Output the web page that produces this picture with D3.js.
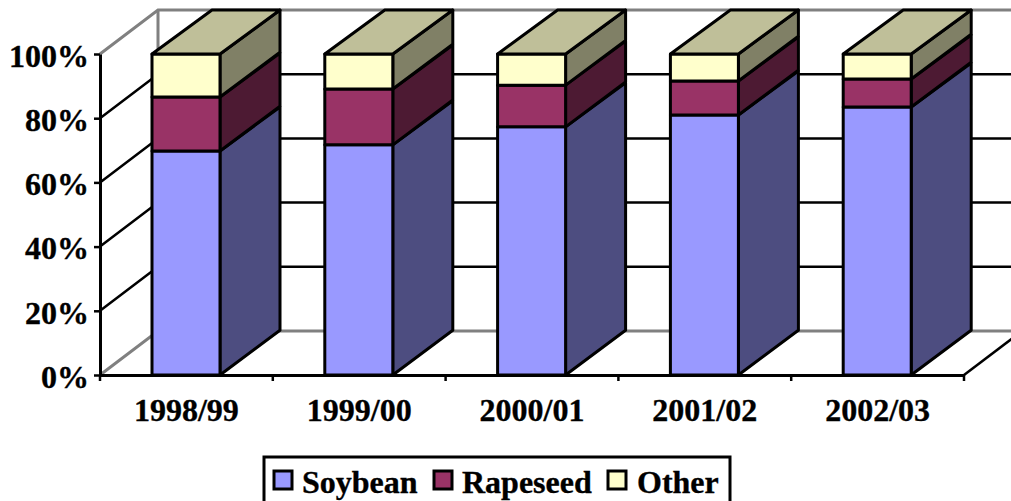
<!DOCTYPE html>
<html>
<head>
<meta charset="utf-8">
<script src="https://cdn.jsdelivr.net/npm/d3@7"></script>
<style>
html, body { margin: 0; padding: 0; background: #fff; overflow: hidden; }
text { font-family: "Liberation Serif", serif; font-weight: bold; fill: #000; stroke: #000; stroke-width: 0.35px; }
</style>
</head>
<body>
<div id="chart"></div>
<script>
// values in percent
var years = ['1998/99', '1999/00', '2000/01', '2001/02', '2002/03'];
var soybean = [69.8, 71.7, 77.3, 81.0, 83.5];
var rapeseed = [16.8, 17.4, 13.0, 10.6, 8.7];
var other = [13.4, 10.9, 9.7, 8.4, 7.8];
var seriesNames = ['Soybean', 'Rapeseed', 'Other'];
var yTicks = [0, 20, 40, 60, 80, 100];

var width = 1011;
var height = 501;

// depth of the 3d box
var depthX = 58;
var depthY = -44;
var barDepthX = 60;

var frontColor = ['#9999ff', '#993366', '#ffffcc'];
var sideColor = ['#4d4d80', '#4d1a33', '#808066'];
var topColor = '#bfbf99';

var svg = d3.select('#chart').append('svg')
    .attr('width', width)
    .attr('height', height)
    .style('display', 'block');

var xscale = d3.scaleBand()
    .domain(years)
    .range([100, 964])
    .paddingInner(0)
    .paddingOuter(0);

var yscale = d3.scaleLinear()
    .domain([0, 100])
    .range([375, 54]);

var barWidth = 68;
function barLeft(d) { return xscale(d) + (xscale.bandwidth() - barWidth) / 2 - 0.4; }

// back wall gridlines and left wall
var grid = svg.append('g');
yTicks.forEach(function (t) {
    var y = yscale(t);
    var col = (t == 0 || t == 100) ? '#808080' : '#000';
    grid.append('path')
        .attr('d', 'M100,' + y + 'L' + (100 + depthX) + ',' + (y + depthY) + 'L' + (width + 20) + ',' + (y + depthY))
        .attr('fill', 'none')
        .attr('stroke', col)
        .attr('stroke-width', t == 0 || t == 100 ? 3 : 2.5);
});
grid.append('line')
    .attr('x1', 100 + depthX).attr('x2', 100 + depthX)
    .attr('y1', yscale(100) + depthY).attr('y2', yscale(0) + depthY)
    .attr('stroke', '#808080')
    .attr('stroke-width', 3);

// floor edge on the right
svg.append('line')
    .attr('x1', 964).attr('y1', yscale(0))
    .attr('x2', 964 + depthX).attr('y2', yscale(0) + depthY)
    .attr('stroke', '#000')
    .attr('stroke-width', 2.5);

// stacked boxes
var rows = years.map(function (d, i) {
    return { year: d, Soybean: soybean[i], Rapeseed: rapeseed[i], Other: other[i] };
});
var stacked = d3.stack().keys(seriesNames)(rows);

var bars = svg.append('g')
    .attr('stroke', '#000')
    .attr('stroke-width', 3)
    .attr('stroke-linejoin', 'round');

stacked.forEach(function (layer, s) {
    layer.forEach(function (d) {
        var x0 = barLeft(d.data.year);
        var x1 = x0 + barWidth;
        var y0 = yscale(d[0]);
        var y1 = yscale(d[1]);
        // side
        bars.append('path')
            .attr('d', 'M' + x1 + ',' + y0 + 'L' + (x1 + barDepthX) + ',' + (y0 + depthY - 0.8) +
                'L' + (x1 + barDepthX) + ',' + (y1 + depthY) + 'L' + x1 + ',' + y1 + 'Z')
            .attr('fill', sideColor[s]);
        // front
        bars.append('rect')
            .attr('x', x0)
            .attr('y', y1)
            .attr('width', barWidth)
            .attr('height', y0 - y1)
            .attr('fill', frontColor[s]);
        // top face only on the last series
        if (s == stacked.length - 1) {
            bars.append('path')
                .attr('d', 'M' + x0 + ',' + y1 + 'L' + (x0 + barDepthX) + ',' + (y1 + depthY) +
                    'L' + (x1 + barDepthX) + ',' + (y1 + depthY) + 'L' + x1 + ',' + y1 + 'Z')
                .attr('fill', topColor);
        }
    });
});

// axes
var yaxis = d3.axisLeft(yscale)
    .tickValues(yTicks)
    .tickFormat(function (d) { return d + '%'; })
    .tickSize(6)
    .tickPadding(5)
    .tickSizeOuter(0);

var gy = svg.append('g')
    .attr('transform', 'translate(100,2)')
    .call(yaxis);
gy.select('.domain').attr('transform', 'translate(0,-2)');
gy.selectAll('.tick line').attr('transform', 'translate(0,-2)');

var xaxis = d3.axisBottom(xscale)
    .tickSize(0)
    .tickPadding(23)
    .tickSizeOuter(0);

var gx = svg.append('g')
    .attr('transform', 'translate(0,375)')
    .call(xaxis);

// tick marks sit on the band edges, not the centres
gx.selectAll('.edge')
    .data(years.concat(['end']))
    .enter().append('line')
    .attr('class', 'edge')
    .attr('x1', function (d, i) { return 100 + i * xscale.step(); })
    .attr('x2', function (d, i) { return 100 + i * xscale.step(); })
    .attr('y1', 0)
    .attr('y2', 6)
    .attr('stroke', '#000')
    .attr('stroke-width', 2.5);

svg.selectAll('.domain').attr('stroke', '#000').attr('stroke-width', 3);
gy.selectAll('.tick line').attr('stroke', '#000').attr('stroke-width', 2.5);
gy.selectAll('text').attr('font-size', 32).style('font-family', '"Liberation Serif", serif');
gx.selectAll('text').attr('font-size', 32).style('font-family', '"Liberation Serif", serif');

// legend
var legend = svg.append('g');
legend.append('rect')
    .attr('x', 264)
    .attr('y', 457)
    .attr('width', 466)
    .attr('height', 60)
    .attr('fill', '#fff')
    .attr('stroke', '#000')
    .attr('stroke-width', 3);

var swatchX = [274, 434, 608];
var labelX = [302, 462, 637];
seriesNames.forEach(function (name, i) {
    legend.append('rect')
        .attr('x', swatchX[i])
        .attr('y', 471)
        .attr('width', 18)
        .attr('height', 18)
        .attr('fill', frontColor[i])
        .attr('stroke', '#000')
        .attr('stroke-width', 3);
    legend.append('text')
        .attr('x', labelX[i])
        .attr('y', 493)
        .attr('font-size', 32)
        .text(name);
});
</script>
</body>
</html>
